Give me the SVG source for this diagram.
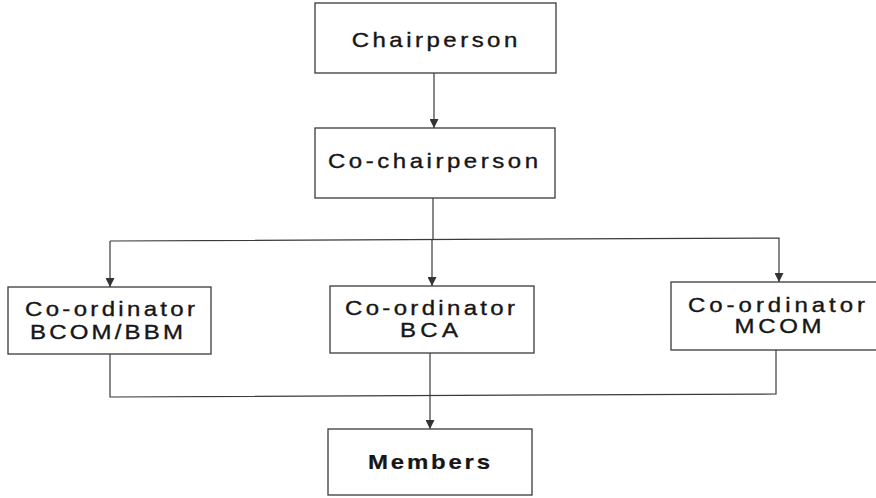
<svg xmlns="http://www.w3.org/2000/svg" width="876" height="498" viewBox="0 0 876 498">
  <style>
    .box { fill: #ffffff; stroke: #3a3a3a; stroke-width: 1.3; }
    .lbl { font-family: "Liberation Sans", Arial, sans-serif; font-size: 20px; fill: #161616; stroke: #161616; stroke-width: 0.35; text-anchor: middle; }
    .bold { font-weight: bold; stroke-width: 0.2; }
    .wire { fill: none; stroke: #3a3a3a; stroke-width: 1.2; }
  </style>
  <defs>
    <marker id="arrow" viewBox="0 0 10 10" refX="10" refY="5" markerWidth="9" markerHeight="9" markerUnits="userSpaceOnUse" orient="auto">
      <path d="M0,0 L10,5 L0,10 z" fill="#333333"/>
    </marker>
  </defs>
  <rect width="876" height="498" fill="#ffffff"/>

  <!-- connectors -->
  <g id="connectors">
    <line class="wire" x1="434" y1="73" x2="434" y2="128" marker-end="url(#arrow)"/>
    <line class="wire" x1="433" y1="198" x2="433" y2="240"/>
    <path class="wire" d="M110,241 L779,238 L779,282" marker-end="url(#arrow)"/>
    <line class="wire" x1="110" y1="241" x2="110" y2="287" marker-end="url(#arrow)"/>
    <line class="wire" x1="432" y1="240" x2="432" y2="286" marker-end="url(#arrow)"/>
    <path class="wire" d="M110,354 L110,397 L776,394 L776,350"/>
    <line class="wire" x1="430" y1="353" x2="430" y2="429" marker-end="url(#arrow)"/>
  </g>

  <!-- nodes (labels use a horizontally widened sans face) -->
  <g id="chairperson">
    <rect class="box" x="315" y="3" width="241" height="70"/>
    <text class="lbl" transform="translate(434.5 47) scale(1.2 1)" textLength="138" lengthAdjust="spacing">Chairperson</text>
  </g>
  <g id="co-chairperson">
    <rect class="box" x="315" y="128" width="240" height="70"/>
    <text class="lbl" transform="translate(433 168) scale(1.2 1)" textLength="175" lengthAdjust="spacing">Co-chairperson</text>
  </g>
  <g id="coord-bcom">
    <rect class="box" x="8" y="287" width="203" height="67"/>
    <text class="lbl" font-size="19.5" transform="translate(110 316) scale(1.2 1)" textLength="141.7" lengthAdjust="spacing">Co-ordinator</text>
    <text class="lbl" font-size="19.5" transform="translate(106.5 339) scale(1.2 1)" textLength="127.5" lengthAdjust="spacing">BCOM/BBM</text>
  </g>
  <g id="coord-bca">
    <rect class="box" x="330" y="286" width="204" height="67"/>
    <text class="lbl" font-size="19.5" transform="translate(430 315) scale(1.2 1)" textLength="141.7" lengthAdjust="spacing">Co-ordinator</text>
    <text class="lbl" font-size="19.5" transform="translate(429 337) scale(1.2 1)" textLength="48.3" lengthAdjust="spacing">BCA</text>
  </g>
  <g id="coord-mcom">
    <rect class="box" x="671" y="282" width="210" height="68"/>
    <text class="lbl" font-size="19.5" transform="translate(776.5 312) scale(1.2 1)" textLength="147.5" lengthAdjust="spacing">Co-ordinator</text>
    <text class="lbl" font-size="19.5" transform="translate(778 333) scale(1.2 1)" textLength="72.5" lengthAdjust="spacing">MCOM</text>
  </g>
  <g id="members">
    <rect class="box" x="328" y="429" width="204" height="66"/>
    <text class="lbl bold" transform="translate(429 469) scale(1.2 1)" textLength="101.7" lengthAdjust="spacing">Members</text>
  </g>
</svg>
